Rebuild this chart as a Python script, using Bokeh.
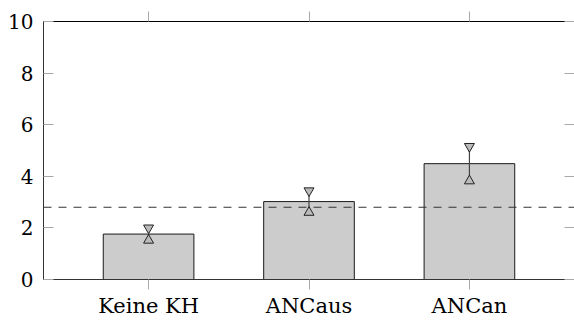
from bokeh.plotting import figure
from bokeh.models import (FactorRange, Range1d, CategoricalAxis, LinearAxis,
                          FixedTicker, Span, ColumnDataSource, CustomJSTickFormatter)
from bokeh.embed import file_html
from bokeh.resources import INLINE

categories = ["Keine KH", "ANCaus", "ANCan"]
values = [1.76, 3.02, 4.49]
errors = [0.24, 0.42, 0.67]
reference_level = 2.8
y_ticks = [0, 2, 4, 6, 8, 10]

lower = [v - e for v, e in zip(values, errors)]
upper = [v + e for v, e in zip(values, errors)]
src = ColumnDataSource(dict(cat=categories, val=values, lo=lower, hi=upper))

FONT = "DejaVu Serif"
FS_X = "21px"
FS_Y = "20px"
TICK_COL = "#a8a8a8"

p = figure(width=574, height=320,
           x_range=FactorRange(*categories, range_padding=0.155,
                               range_padding_units="absolute"),
           y_range=Range1d(0, 10),
           output_backend="svg", toolbar_location=None,
           min_border_left=43, min_border_right=0,
           min_border_top=21, min_border_bottom=40)
p.outline_line_color = None
p.grid.visible = False
p.background_fill_color = "white"
p.border_fill_color = "white"

# bottom axis
xa = p.xaxis[0]
xa.major_tick_in = 0
xa.major_tick_out = 10
xa.major_tick_line_color = TICK_COL
xa.axis_line_color = "#333333"
xa.major_label_text_font = FONT
xa.major_label_text_font_size = FS_X
xa.major_label_text_color = "black"
xa.major_label_standoff = 4

# left axis
ya = p.yaxis[0]
ya.ticker = FixedTicker(ticks=y_ticks)
ya.major_tick_in = 10
ya.major_tick_out = 0
ya.minor_tick_line_color = None
ya.major_tick_line_color = TICK_COL
ya.axis_line_color = "#333333"
ya.major_label_text_font = FONT
ya.major_label_text_font_size = FS_Y
ya.major_label_text_color = "black"
ya.major_label_standoff = 10

# top axis (ticks only)
top = CategoricalAxis(major_tick_in=0, major_tick_out=10,
                      major_tick_line_color=TICK_COL,
                      axis_line_color="black",
                      major_label_overrides={c: "" for c in categories},
                      major_label_text_color=None,
                      major_label_standoff=0)
p.add_layout(top, "above")

# right axis (ticks only)
right = LinearAxis(ticker=FixedTicker(ticks=y_ticks),
                   formatter=CustomJSTickFormatter(code="return ''"),
                   major_tick_in=10, major_tick_out=0,
                   major_tick_line_color=TICK_COL,
                   minor_tick_line_color=None,
                   axis_line_color=None,
                   major_label_text_color=None,
                   major_label_standoff=0)
p.add_layout(right, "right")

p.vbar(x="cat", top="val", width=0.565, source=src,
       fill_color="#cccccc", line_color="#1a1a1a", line_width=1)

p.add_layout(Span(location=reference_level, dimension="width",
                  line_color="#333333", line_width=1, line_dash="8 7"))

p.segment(x0="cat", y0="lo", x1="cat", y1="hi", source=src,
          line_color="#444444", line_width=1.2)
p.scatter(x="cat", y="hi", source=src, marker="inverted_triangle", size=10,
          fill_color="#bbbbbb", line_color="#222222", line_width=1)
p.scatter(x="cat", y="lo", source=src, marker="triangle", size=10,
          fill_color="#bbbbbb", line_color="#222222", line_width=1)

open("out.html", "w").write(file_html(p, INLINE))
